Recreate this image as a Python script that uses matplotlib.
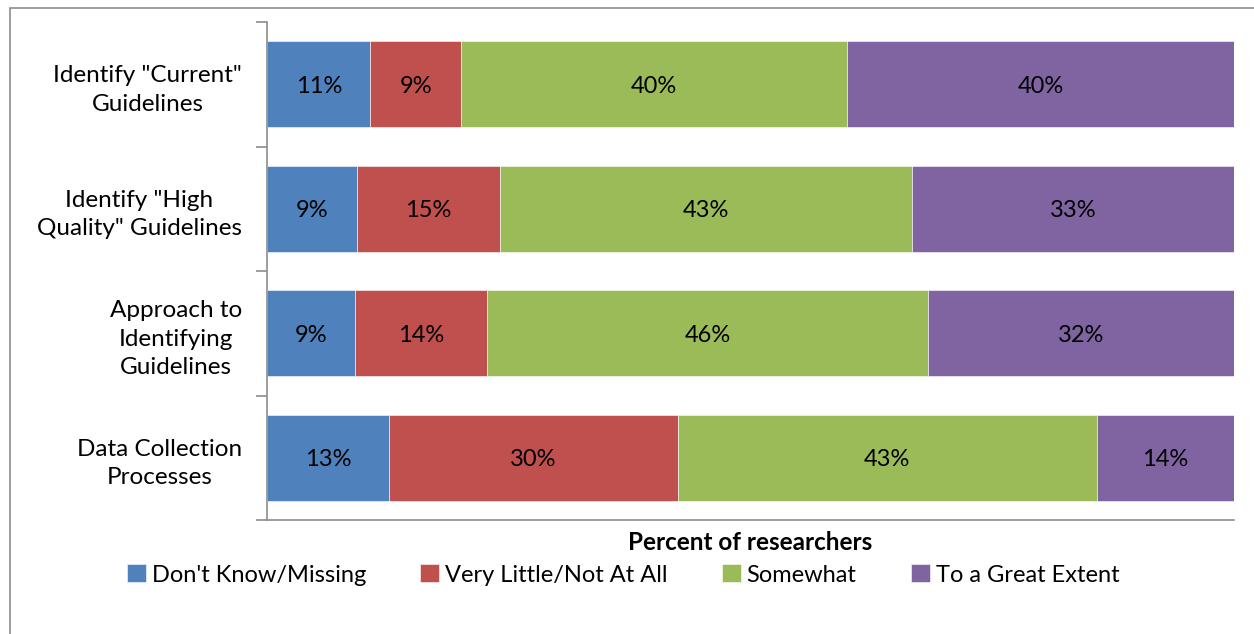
import matplotlib.pyplot as plt
from matplotlib.patches import Rectangle
import numpy as np

plt.rcParams['font.family'] = ['Lato', 'DejaVu Sans']

categories = ['Identify "Current"\nGuidelines',
              'Identify "High\nQuality" Guidelines',
              'Approach to\nIdentifying\nGuidelines',
              'Data Collection\nProcesses']
series_names = ["Don't Know/Missing", 'Very Little/Not At All', 'Somewhat', 'To a Great Extent']
dont_know = [10.7, 9.3, 9.1, 12.6]
very_little = [9.4, 14.8, 13.6, 29.9]
somewhat = [39.9, 42.6, 45.7, 43.3]
great_extent = [40.0, 33.3, 31.6, 14.2]
colors = ['#4F81BD', '#C0504D', '#9BBB59', '#8064A2']

fig = plt.figure(figsize=(12.54, 6.34), dpi=100)
ax = fig.add_axes([267 / 1254, 1 - 520 / 634, (1234 - 267) / 1254, (520 - 22) / 634])

# outer chart frame (only left/top visible in the reference)
fig.patches.append(Rectangle((10 / 1254, -0.1), 1.2, 1 - 8 / 634 + 0.1,
                             transform=fig.transFigure, fill=False,
                             edgecolor='#8c8c8c', linewidth=1.2))

y = np.arange(len(categories))
left = np.zeros(len(categories))
for name, vals, c in zip(series_names, [dont_know, very_little, somewhat, great_extent], colors):
    vals = np.array(vals)
    ax.barh(y, vals, left=left, height=0.69, color=c, label=name,
            edgecolor='white', linewidth=0.4)
    for yi, l, v in zip(y, left, vals):
        ax.text(l + v / 2, yi, f'{round(v):.0f}%', ha='center', va='center_baseline', fontsize=17)
    left += vals

ax.set_xlim(0, 100)
ax.set_ylim(len(categories) - 0.5, -0.5)
ax.set_xticks([])
ax.set_yticks(y)
ax.set_yticklabels(categories, fontsize=17.5)
for lab in ax.get_yticklabels():
    lab.set_multialignment('center')
    lab.set_linespacing(1.45)
ax.set_yticks(np.arange(-0.5, len(categories)), minor=True)
ax.tick_params(axis='y', which='major', length=0, pad=18)
ax.tick_params(axis='y', which='minor', length=8, color='#8c8c8c', width=1.2)
for s in ['top', 'right']:
    ax.spines[s].set_visible(False)
for s in ['left', 'bottom']:
    ax.spines[s].set_color('#8c8c8c')
    ax.spines[s].set_linewidth(1.2)

ax.set_xlabel('Percent of researchers', fontsize=17.5, fontweight='bold', labelpad=8)

handles, labels = ax.get_legend_handles_labels()
fig.legend(handles, labels, loc='center', bbox_to_anchor=(623 / 1254, 1 - 575 / 634),
           ncol=4, frameon=False, fontsize=17, handlelength=0.8, handleheight=0.8,
           handletextpad=0.25, columnspacing=2.3)

fig.savefig('out.png', dpi=100)
